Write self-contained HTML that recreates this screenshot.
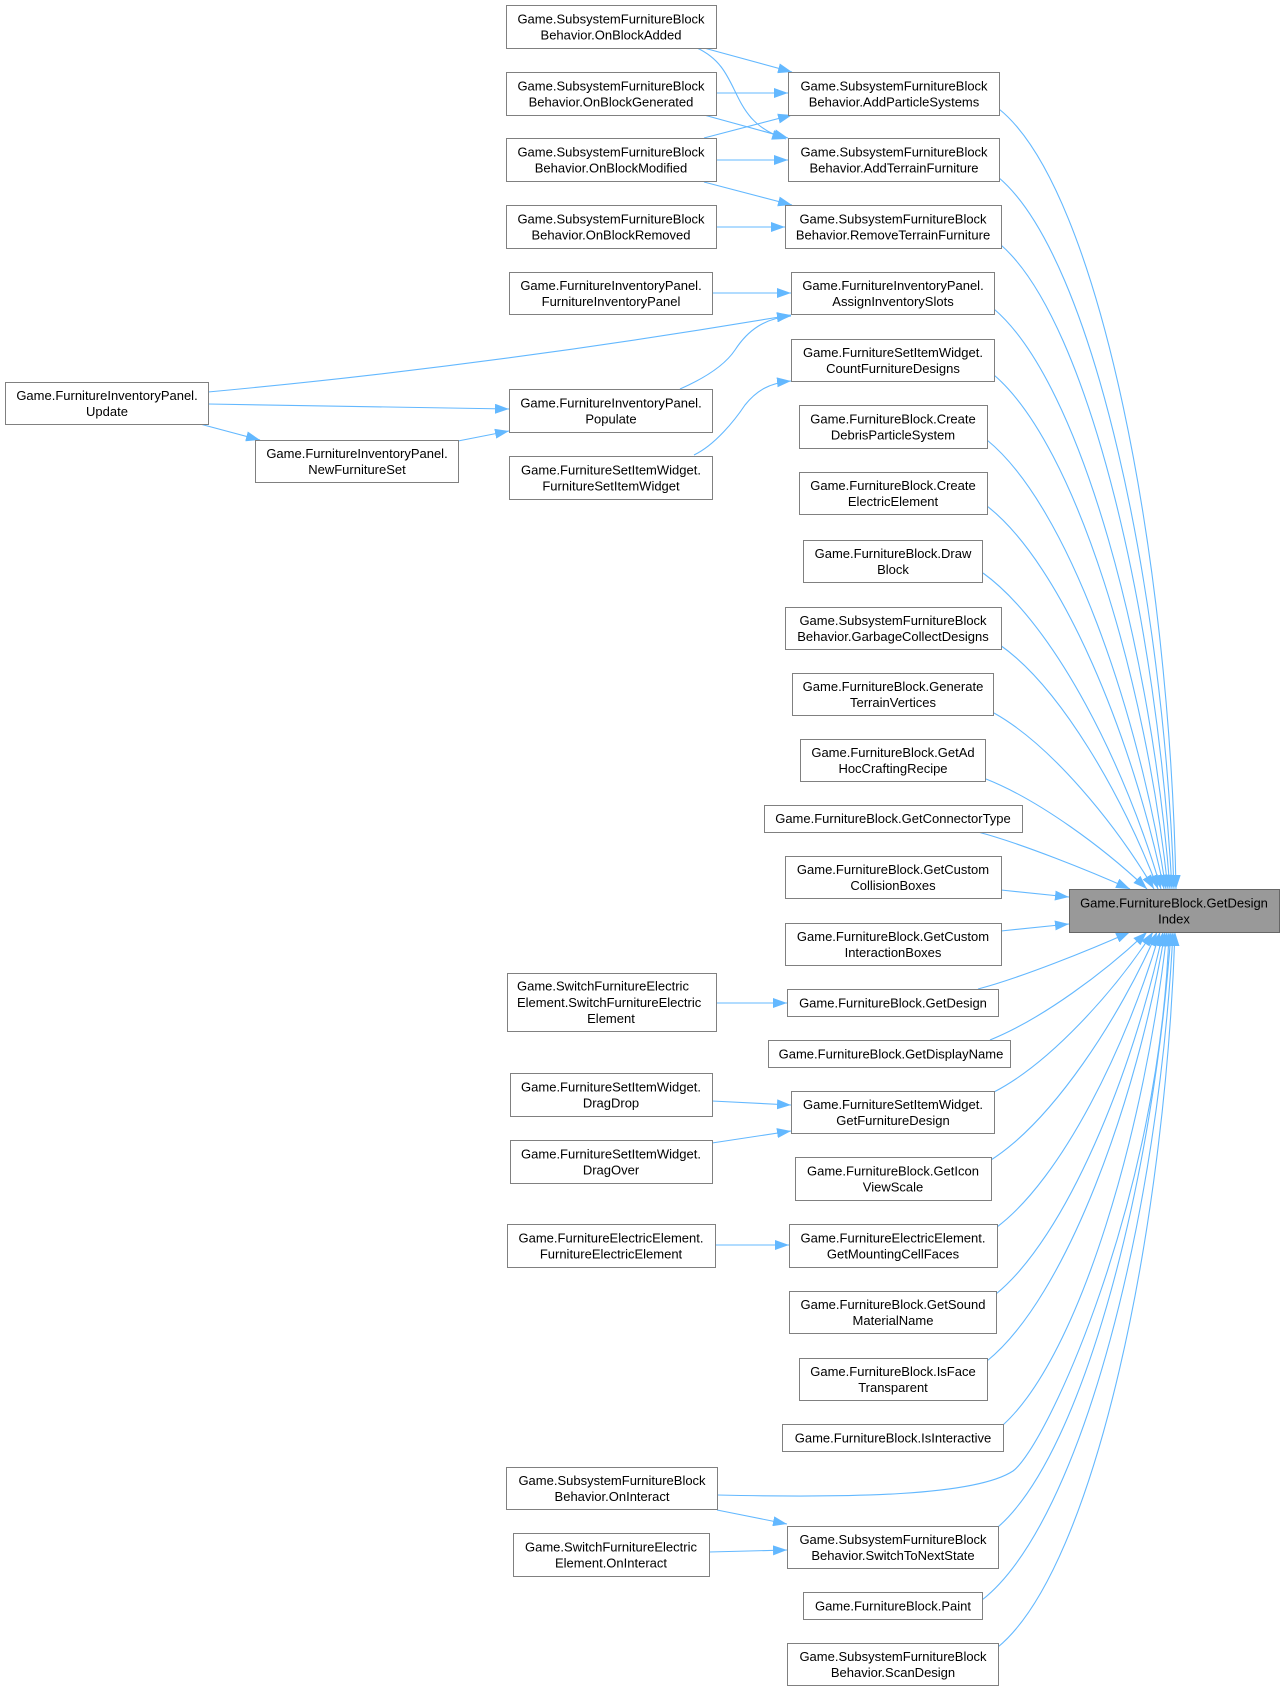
<!DOCTYPE html>
<html><head><meta charset="utf-8"><style>
html,body{margin:0;padding:0;background:#fff;}
svg{display:block;}
text{font-family:"Liberation Sans",Arial,sans-serif;font-size:13px;fill:#000;}
.n{fill:#fff;stroke:#808080;stroke-width:1;}
.e{fill:none;stroke:#63b8ff;stroke-width:1.1;marker-end:url(#a);}
</style></head><body>
<svg width="1285" height="1691" viewBox="0 0 1285 1691" xmlns="http://www.w3.org/2000/svg">
<defs><marker id="a" markerUnits="userSpaceOnUse" markerWidth="14" markerHeight="10" refX="14" refY="5" orient="auto"><path d="M0,0 L14,5 L0,10 z" fill="#63b8ff"/></marker></defs>
<rect width="1285" height="1691" fill="#fff"/>
<!-- edges -->
<g>
<path class="e" d="M999,109 C1100,190 1170,561 1176,889"/>
<path class="e" d="M998,177 C1094,257 1164,594 1174,889"/>
<path class="e" d="M1001,245 C1090,323 1158,625 1172,889"/>
<path class="e" d="M994,309 C1082,384 1152,654 1170,889"/>
<path class="e" d="M994,375 C1077,446 1146,683 1168,889"/>
<path class="e" d="M987,440 C1068,506 1139,712 1166,889"/>
<path class="e" d="M987,506 C1063,565 1133,740 1164,889"/>
<path class="e" d="M983,573 C1055,625 1126,767 1161,889"/>
<path class="e" d="M1000,645 C1060,687 1123,796 1158,889"/>
<path class="e" d="M994,713 C1051,745 1115,823 1154,889"/>
<path class="e" d="M986,779 C1039,800 1104,848 1147,889"/>
<path class="e" d="M978,832 C1020,843 1090,871 1130,889"/>
<path class="e" d="M1001,890 L1069,897"/>
<path class="e" d="M1001,931 L1069,924"/>
<path class="e" d="M978,989 C1020,978 1090,950 1130,932"/>
<path class="e" d="M990,1040 C1042,1019 1105,972 1147,932"/>
<path class="e" d="M994,1092 C1050,1063 1114,992 1153,932"/>
<path class="e" d="M991,1160 C1053,1120 1119,1019 1157,932"/>
<path class="e" d="M997,1227 C1062,1178 1127,1046 1160,932"/>
<path class="e" d="M996,1294 C1066,1237 1133,1073 1163,932"/>
<path class="e" d="M987,1361 C1066,1297 1137,1101 1165,932"/>
<path class="e" d="M1003,1425 C1080,1355 1145,1129 1167,932"/>
<path class="e" d="M717,1495 C850,1498 975,1496 1013,1471 C1046,1447 1160,1200 1169,932"/>
<path class="e" d="M998,1527 C1085,1451 1154,1174 1171,932"/>
<path class="e" d="M982,1600 C1083,1521 1159,1208 1173,932"/>
<path class="e" d="M998,1647 C1095,1567 1165,1229 1175,932"/>
<path class="e" d="M704,48 L792,72"/>
<path class="e" d="M697,48 C745,70 725,120 786,139"/>
<path class="e" d="M716,93 L788,93"/>
<path class="e" d="M704,115 L788,138"/>
<path class="e" d="M704,138 L792,115"/>
<path class="e" d="M716,160 L788,160"/>
<path class="e" d="M704,182 L792,205"/>
<path class="e" d="M716,227 L785,227"/>
<path class="e" d="M712,293 L791,293"/>
<path class="e" d="M208,392 Q490,366 791,315"/>
<path class="e" d="M680,389 C705,378 725,365 735,350 C748,330 765,318 791,316"/>
<path class="e" d="M694,455 C715,445 735,420 745,405 C757,390 770,383 791,381"/>
<path class="e" d="M208,404 L509,409"/>
<path class="e" d="M458,441 L509,431"/>
<path class="e" d="M200,424 L260,440"/>
<path class="e" d="M716,1003 L787,1003"/>
<path class="e" d="M712,1101 L791,1105"/>
<path class="e" d="M712,1143 L791,1131"/>
<path class="e" d="M715,1245 L789,1245"/>
<path class="e" d="M717,1510 L787,1524"/>
<path class="e" d="M709,1552 L787,1550"/>
</g>
<!-- nodes -->
<g text-anchor="middle">
<rect class="n" x="5.5" y="382.5" width="203" height="42"/><text x="107" y="400">Game.FurnitureInventoryPanel.</text><text x="107" y="416">Update</text>
<rect class="n" x="255.5" y="440.5" width="203" height="42"/><text x="357" y="458">Game.FurnitureInventoryPanel.</text><text x="357" y="474">NewFurnitureSet</text>

<rect class="n" x="506.5" y="5.5" width="210" height="43"/><text x="611" y="23.5">Game.SubsystemFurnitureBlock</text><text x="611" y="39.5">Behavior.OnBlockAdded</text>
<rect class="n" x="506.5" y="72.5" width="210" height="43"/><text x="611" y="90.5">Game.SubsystemFurnitureBlock</text><text x="611" y="106.5">Behavior.OnBlockGenerated</text>
<rect class="n" x="506.5" y="138.5" width="210" height="43"/><text x="611" y="156.5">Game.SubsystemFurnitureBlock</text><text x="611" y="172.5">Behavior.OnBlockModified</text>
<rect class="n" x="506.5" y="205.5" width="210" height="43"/><text x="611" y="223.5">Game.SubsystemFurnitureBlock</text><text x="611" y="239.5">Behavior.OnBlockRemoved</text>
<rect class="n" x="509.5" y="272.5" width="203" height="42"/><text x="611" y="290">Game.FurnitureInventoryPanel.</text><text x="611" y="306">FurnitureInventoryPanel</text>
<rect class="n" x="509.5" y="389.5" width="203" height="43"/><text x="611" y="407.5">Game.FurnitureInventoryPanel.</text><text x="611" y="423.5">Populate</text>
<rect class="n" x="509.5" y="456.5" width="203" height="43"/><text x="611" y="474.5">Game.FurnitureSetItemWidget.</text><text x="611" y="490.5">FurnitureSetItemWidget</text>
<rect class="n" x="507.5" y="973.5" width="209" height="58"/><text x="517" y="990.5" text-anchor="start">Game.SwitchFurnitureElectric</text><text x="517" y="1007" text-anchor="start">Element.SwitchFurnitureElectric</text><text x="611" y="1023">Element</text>
<rect class="n" x="510.5" y="1073.5" width="202" height="43"/><text x="611" y="1091.5">Game.FurnitureSetItemWidget.</text><text x="611" y="1107.5">DragDrop</text>
<rect class="n" x="510.5" y="1140.5" width="202" height="43"/><text x="611" y="1158.5">Game.FurnitureSetItemWidget.</text><text x="611" y="1174.5">DragOver</text>
<rect class="n" x="507.5" y="1224.5" width="208" height="43"/><text x="611" y="1242.5">Game.FurnitureElectricElement.</text><text x="611" y="1258.5">FurnitureElectricElement</text>
<rect class="n" x="506.5" y="1467.5" width="211" height="42"/><text x="612" y="1485">Game.SubsystemFurnitureBlock</text><text x="612" y="1501">Behavior.OnInteract</text>
<rect class="n" x="513.5" y="1533.5" width="196" height="43"/><text x="611" y="1551.5">Game.SwitchFurnitureElectric</text><text x="611" y="1567.5">Element.OnInteract</text>

<rect class="n" x="788.5" y="72.5" width="211" height="43"/><text x="894" y="90.5">Game.SubsystemFurnitureBlock</text><text x="894" y="106.5">Behavior.AddParticleSystems</text>
<rect class="n" x="788.5" y="138.5" width="211" height="43"/><text x="894" y="156.5">Game.SubsystemFurnitureBlock</text><text x="894" y="172.5">Behavior.AddTerrainFurniture</text>
<rect class="n" x="785.5" y="205.5" width="216" height="43"/><text x="893" y="223.5">Game.SubsystemFurnitureBlock</text><text x="893" y="239.5">Behavior.RemoveTerrainFurniture</text>
<rect class="n" x="791.5" y="272.5" width="203" height="42"/><text x="893" y="290">Game.FurnitureInventoryPanel.</text><text x="893" y="306">AssignInventorySlots</text>
<rect class="n" x="791.5" y="339.5" width="203" height="42"/><text x="893" y="357">Game.FurnitureSetItemWidget.</text><text x="893" y="373">CountFurnitureDesigns</text>
<rect class="n" x="799.5" y="405.5" width="188" height="43"/><text x="893" y="423.5">Game.FurnitureBlock.Create</text><text x="893" y="439.5">DebrisParticleSystem</text>
<rect class="n" x="799.5" y="472.5" width="188" height="42"/><text x="893" y="490">Game.FurnitureBlock.Create</text><text x="893" y="506">ElectricElement</text>
<rect class="n" x="803.5" y="540.5" width="179" height="42"/><text x="893" y="558">Game.FurnitureBlock.Draw</text><text x="893" y="574">Block</text>
<rect class="n" x="785.5" y="607.5" width="216" height="42"/><text x="893" y="625">Game.SubsystemFurnitureBlock</text><text x="893" y="641">Behavior.GarbageCollectDesigns</text>
<rect class="n" x="792.5" y="673.5" width="201" height="42"/><text x="893" y="691">Game.FurnitureBlock.Generate</text><text x="893" y="707">TerrainVertices</text>
<rect class="n" x="800.5" y="739.5" width="185" height="42"/><text x="893" y="757">Game.FurnitureBlock.GetAd</text><text x="893" y="773">HocCraftingRecipe</text>
<rect class="n" x="764.5" y="805.5" width="258" height="27"/><text x="893" y="823">Game.FurnitureBlock.GetConnectorType</text>
<rect class="n" x="785.5" y="856.5" width="216" height="42"/><text x="893" y="874">Game.FurnitureBlock.GetCustom</text><text x="893" y="890">CollisionBoxes</text>
<rect class="n" x="785.5" y="923.5" width="216" height="42"/><text x="893" y="941">Game.FurnitureBlock.GetCustom</text><text x="893" y="957">InteractionBoxes</text>
<rect class="n" x="787.5" y="989.5" width="211" height="27"/><text x="893" y="1007.5">Game.FurnitureBlock.GetDesign</text>
<rect class="n" x="768.5" y="1040.5" width="242" height="27"/><text x="891" y="1058.5">Game.FurnitureBlock.GetDisplayName</text>
<rect class="n" x="791.5" y="1091.5" width="203" height="42"/><text x="893" y="1109">Game.FurnitureSetItemWidget.</text><text x="893" y="1125">GetFurnitureDesign</text>
<rect class="n" x="795.5" y="1157.5" width="196" height="43"/><text x="893" y="1175.5">Game.FurnitureBlock.GetIcon</text><text x="893" y="1191.5">ViewScale</text>
<rect class="n" x="789.5" y="1224.5" width="208" height="43"/><text x="893" y="1242.5">Game.FurnitureElectricElement.</text><text x="893" y="1258.5">GetMountingCellFaces</text>
<rect class="n" x="789.5" y="1291.5" width="207" height="42"/><text x="893" y="1309">Game.FurnitureBlock.GetSound</text><text x="893" y="1325">MaterialName</text>
<rect class="n" x="799.5" y="1358.5" width="188" height="42"/><text x="893" y="1376">Game.FurnitureBlock.IsFace</text><text x="893" y="1392">Transparent</text>
<rect class="n" x="782.5" y="1424.5" width="221" height="27"/><text x="893" y="1442.5">Game.FurnitureBlock.IsInteractive</text>
<rect class="n" x="787.5" y="1526.5" width="211" height="42"/><text x="893" y="1544">Game.SubsystemFurnitureBlock</text><text x="893" y="1560">Behavior.SwitchToNextState</text>
<rect class="n" x="803.5" y="1592.5" width="179" height="27"/><text x="893" y="1610.5">Game.FurnitureBlock.Paint</text>
<rect class="n" x="787.5" y="1643.5" width="211" height="42"/><text x="893" y="1661">Game.SubsystemFurnitureBlock</text><text x="893" y="1677">Behavior.ScanDesign</text>

<rect x="1069.5" y="889.5" width="210" height="43" fill="#999999" stroke="#666666" stroke-width="1"/><text x="1174" y="907.5">Game.FurnitureBlock.GetDesign</text><text x="1174" y="923.5">Index</text>
</g>
</svg>
</body></html>
